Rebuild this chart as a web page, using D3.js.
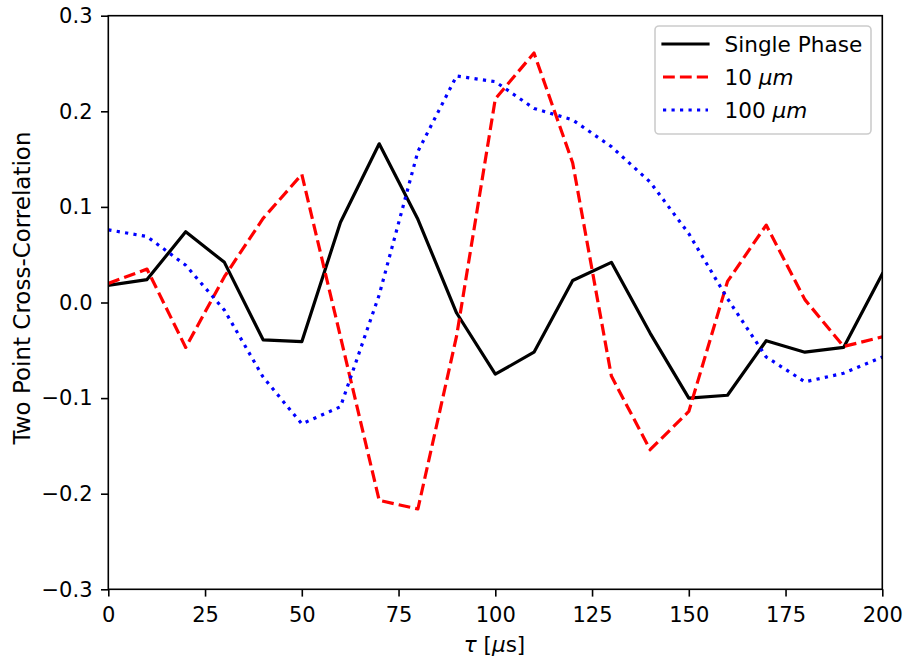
<!DOCTYPE html>
<html>
<head>
<meta charset="utf-8">
<script src="https://cdn.jsdelivr.net/npm/d3@7"></script>
<style>
  body { margin: 0; background: #fff; }
  svg { display: block; font-family: "DejaVu Sans", sans-serif; }
</style>
</head>
<body>
<svg id="chart" width="908" height="661"></svg>
<script>
// Lag times in microseconds
const tau = [0, 10, 20, 30, 40, 50, 60, 70, 80, 90, 100, 110, 120, 130, 140, 150, 160, 170, 180, 190, 200];

// Two point cross-correlation per case
const singlePhase = [0.018, 0.024, 0.074, 0.042, -0.039, -0.041, 0.084, 0.166, 0.087, -0.011, -0.075, -0.052, 0.023, 0.042, -0.032, -0.100, -0.097, -0.040, -0.052, -0.047, 0.030];
const micro10 = [0.020, 0.035, -0.047, 0.027, 0.088, 0.134, -0.036, -0.207, -0.216, -0.035, 0.213, 0.261, 0.146, -0.077, -0.154, -0.114, 0.022, 0.081, 0.003, -0.046, -0.036];
const micro100 = [0.076, 0.069, 0.039, -0.008, -0.078, -0.127, -0.109, 0.008, 0.158, 0.237, 0.231, 0.203, 0.191, 0.163, 0.126, 0.072, 0.004, -0.057, -0.083, -0.074, -0.057];

const xTicks = [0, 25, 50, 75, 100, 125, 150, 175, 200];
const yTicks = [-0.3, -0.2, -0.1, 0.0, 0.1, 0.2, 0.3];

const LW = 3.2;      // line width, px
const FS = 21;       // tick text size, px

const series = [
  { name: "Single Phase", unit: null, values: singlePhase, color: "#000000", dash: null, cap: "square" },
  { name: "10", unit: "μm", values: micro10, color: "#ff0000", dash: "11.8,5.1", cap: "butt" },
  { name: "100", unit: "μm", values: micro100, color: "#0000ff", dash: "3.2,5.3", cap: "butt" }
];

const svg = d3.select("#chart");
const plotLeft = 108.3, plotRight = 882.3, plotTop = 15.7, plotBottom = 589.3;

const x = d3.scaleLinear().domain([0, 200]).range([plotLeft, plotRight]);
const y = d3.scaleLinear().domain([-0.3, 0.3]).range([plotBottom, plotTop]);

// Clip lines to the axes area
svg.append("defs").append("clipPath").attr("id", "plotClip")
  .append("rect").attr("x", plotLeft).attr("y", plotTop)
  .attr("width", plotRight - plotLeft).attr("height", plotBottom - plotTop);

const line = d3.line().x((d, i) => x(tau[i])).y(d => y(d));

const plot = svg.append("g").attr("clip-path", "url(#plotClip)");
series.forEach(s => {
  plot.append("path")
    .datum(s.values)
    .attr("d", line)
    .attr("fill", "none")
    .attr("stroke", s.color)
    .attr("stroke-width", LW)
    .attr("stroke-linejoin", "round")
    .attr("stroke-linecap", s.cap)
    .attr("stroke-dasharray", s.dash);
});

// Axes
const fmtY = d => (d < 0 ? "\u2212" : "") + Math.abs(d).toFixed(1);
const xAxis = d3.axisBottom(x).tickValues(xTicks).tickSize(7.3).tickPadding(10).tickFormat(d3.format("d"));
const yAxis = d3.axisLeft(y).tickValues(yTicks).tickSize(7.3).tickPadding(8.5).tickFormat(fmtY);

const gx = svg.append("g").attr("transform", `translate(0,${plotBottom})`).call(xAxis);
const gy = svg.append("g").attr("transform", `translate(${plotLeft},0)`).call(yAxis);
[gx, gy].forEach(g => {
  g.select(".domain").remove();
  g.attr("font-size", FS).attr("font-family", "DejaVu Sans, sans-serif");
  g.selectAll(".tick line").attr("stroke", "#000").attr("stroke-width", 1.6);
  g.selectAll(".tick text").attr("fill", "#000");
});

// Frame
svg.append("rect")
  .attr("x", plotLeft).attr("y", plotTop)
  .attr("width", plotRight - plotLeft).attr("height", plotBottom - plotTop)
  .attr("fill", "none").attr("stroke", "#000").attr("stroke-width", 1.6);

// Axis labels
const xl = svg.append("text")
  .attr("x", 494.5).attr("y", 652)
  .attr("text-anchor", "middle").attr("font-size", 21.5).attr("fill", "#000");
xl.append("tspan").attr("font-style", "italic").text("τ");
xl.append("tspan").text(" [");
xl.append("tspan").attr("font-style", "italic").text("μ");
xl.append("tspan").text("s]");

svg.append("text")
  .attr("transform", `translate(29.5,${288}) rotate(-90)`)
  .attr("text-anchor", "middle").attr("font-size", 23).attr("fill", "#000")
  .text("Two Point Cross-Correlation");

// Legend
const lg = svg.append("g");
lg.append("rect")
  .attr("x", 655).attr("y", 26).attr("width", 216).attr("height", 108)
  .attr("rx", 4).attr("fill", "#fff").attr("fill-opacity", 0.8)
  .attr("stroke", "#cccccc").attr("stroke-width", 1.6);

const rowY = [44, 77, 110];
series.forEach((s, i) => {
  lg.append("line")
    .attr("x1", 663).attr("x2", 708).attr("y1", rowY[i]).attr("y2", rowY[i])
    .attr("stroke", s.color).attr("stroke-width", LW)
    .attr("stroke-linecap", s.cap).attr("stroke-dasharray", s.dash);
  const t = lg.append("text")
    .attr("x", 724.5).attr("y", rowY[i] + 7.8)
    .attr("font-size", 21.6).attr("fill", "#000");
  t.append("tspan").text(s.name);
  if (s.unit) {
    t.append("tspan").text(" ");
    t.append("tspan").attr("font-style", "italic").text(s.unit);
  }
});
</script>
</body>
</html>
